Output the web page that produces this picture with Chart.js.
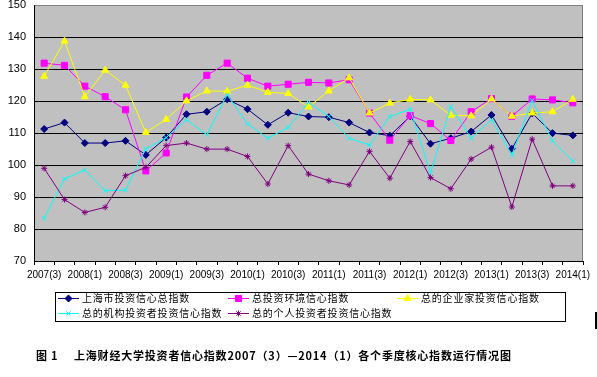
<!DOCTYPE html>
<html>
<head>
<meta charset="utf-8">
<script src="https://cdn.jsdelivr.net/npm/chart.js@4.4.0/dist/chart.umd.min.js"></script>
<style>
  body { margin: 0; background: #fff; }
  #wrap { position: relative; width: 597px; height: 377px; }
  #legendBox { position: absolute; left: 55px; top: 292px; width: 509px; height: 28px; border: 1px solid #000; }
  .item { position: absolute; height: 14px; white-space: nowrap; font: 10px "Noto Sans CJK SC", sans-serif; letter-spacing: 0.8px; line-height: 14px; color: #000; }
  .item canvas { position: absolute; left: 0; top: 1px; }
  .item span { position: absolute; top: 0; }
  #cursor { position: absolute; left: 595px; top: 312px; width: 2px; height: 17px; background: #000; }
  .title { position: absolute; top: 348px; font: bold 11px "Noto Sans CJK SC", sans-serif; letter-spacing: 0.8px; line-height: 14px; white-space: nowrap; color: #000; }
</style>
</head>
<body>
<div id="wrap">
  <canvas id="chart" width="597" height="377"></canvas>
  <div id="legendBox"></div>
  <div id="cursor"></div>
  <div class="title" style="left:36px;">图 1</div>
  <div class="title" style="left:74px;">上海财经大学投资者信心指数2007（3）—2014（1）各个季度核心指数运行情况图</div>
</div>
<script>
// quarters 2007(3) .. 2014(1)
const quarters = ['2007(3)', '2007(4)', '2008(1)', '2008(2)', '2008(3)', '2008(4)', '2009(1)', '2009(2)',
  '2009(3)', '2009(4)', '2010(1)', '2010(2)', '2010(3)', '2010(4)', '2011(1)', '2011(2)', '2011(3)',
  '2011(4)', '2012(1)', '2012(2)', '2012(3)', '2012(4)', '2013(1)', '2013(2)', '2013(3)', '2013(4)', '2014(1)'];

const seriesNames = ['上海市投资信心总指数', '总投资环境信心指数', '总的企业家投资信心指数',
  '总的机构投资者投资信心指数', '总的个人投资者投资信心指数'];

const shanghaiTotal = [111.3, 113.3, 106.9, 106.9, 107.6, 103.2, 108.6, 115.9, 116.7, 120.6, 117.5, 112.6, 116.4, 115.2,
  115.0, 113.3, 110.2, 109.2, 115.3, 106.7, 108.4, 110.5, 115.7, 105.1, 116.2, 110.0, 109.3];
const environment = [131.9, 131.2, 124.7, 121.4, 117.3, 98.2, 103.8, 121.3, 128.1, 131.9, 127.2, 124.7, 125.3, 125.9,
  125.7, 126.7, 116.3, 107.8, 115.5, 113.0, 107.7, 116.7, 120.8, 115.3, 120.7, 120.4, 119.5];
const entrepreneur = [127.8, 138.8, 121.4, 129.7, 125.0, 110.2, 114.3, 120.1, 123.2, 123.1, 125.0, 122.8, 122.4, 118.2,
  123.2, 127.3, 116.3, 119.4, 120.6, 120.4, 115.6, 115.4, 120.7, 115.3, 116.3, 116.7, 120.6];
const institution = [83.4, 95.7, 98.5, 92.0, 92.2, 105.1, 108.6, 114.2, 109.5, 122.0, 112.9, 108.4, 111.8, 119.6,
  115.2, 108.4, 106.3, 115.2, 117.5, 97.5, 118.3, 108.4, 114.2, 103.2, 120.2, 107.6, 101.3];
const individual = [99.0, 89.2, 85.2, 86.8, 96.7, 99.3, 106.1, 106.9, 105.0, 105.0, 102.7, 94.1, 106.1, 97.2,
  95.1, 93.8, 104.3, 95.9, 107.4, 96.1, 92.6, 101.9, 105.6, 86.9, 108.1, 93.5, 93.5];

const yTicks = [70, 80, 90, 100, 110, 120, 130, 140, 150];

const seriesValues = [shanghaiTotal, environment, entrepreneur, institution, individual];
const seriesColors = ['#000080', '#ff00ff', '#ffff00', '#00ffff', '#800080'];
const seriesMarkers = ['rectRot', 'rect', 'triangle', 'crossRot', 'star'];
const markerSizes = [3.5, 4.3, 4, 3, 3];

Chart.defaults.font.family = '"Liberation Sans", Arial, sans-serif';
Chart.defaults.color = '#000';

// grey plot area + grey right border, like the Excel chart
const plotFrame = {
  id: 'plotFrame',
  beforeDraw(chart) {
    const { ctx, chartArea: a } = chart;
    ctx.save();
    ctx.fillStyle = '#c0c0c0';
    ctx.fillRect(a.left, a.top, a.right - a.left, a.bottom - a.top);
    ctx.strokeStyle = '#808080';
    ctx.lineWidth = 1;
    ctx.beginPath();
    ctx.moveTo(Math.round(a.right) - 0.5, a.top);
    ctx.lineTo(Math.round(a.right) - 0.5, a.bottom);
    ctx.stroke();
    ctx.restore();
  }
};

const datasets = seriesNames.map((name, i) => ({
  label: name,
  data: seriesValues[i],
  borderColor: seriesColors[i],
  backgroundColor: seriesColors[i],
  borderWidth: 1,
  pointStyle: seriesMarkers[i],
  pointRadius: markerSizes[i],
  pointBorderWidth: 1,
  pointBorderColor: seriesColors[i],
  pointBackgroundColor: seriesColors[i],
  tension: 0,
  order: 5 - i
}));

const chart = new Chart(document.getElementById('chart'), {
  type: 'line',
  data: { labels: quarters, datasets: datasets },
  options: {
    responsive: false,
    animation: false,
    layout: { padding: { left: 0, top: 5, right: 14, bottom: 96 } },
    plugins: { legend: { display: false }, tooltip: { enabled: false } },
    scales: {
      x: {
        offset: true,
        border: { color: '#000', width: 1 },
        grid: { offset: true, drawOnChartArea: false, drawTicks: true, tickLength: 4, color: '#000' },
        ticks: {
          autoSkip: false, maxRotation: 0, minRotation: 0, padding: 4,
          font: { size: 10 },
          callback: function(value, index) {
            return index % 2 === 0 ? this.getLabelForValue(value) : '';
          }
        },
        afterFit: function(scale) {
          scale.height = 20;
          scale.paddingLeft = 0;
          scale.paddingRight = 0;
        }
      },
      y: {
        min: 70,
        max: 150,
        border: { color: '#000', width: 1 },
        grid: {
          drawTicks: false,
          lineWidth: 1,
          color: ctx => ctx.tick && ctx.tick.value === 150 ? '#808080' : '#000'
        },
        ticks: { padding: 8, font: { size: 11 } },
        afterBuildTicks: function(scale) {
          scale.ticks = yTicks.map(v => ({ value: v }));
        },
        afterFit: function(scale) {
          scale.width = 34;
          scale.paddingTop = 0;
          scale.paddingBottom = 0;
        }
      }
    }
  },
  plugins: [plotFrame]
});

// legend laid out in the fixed grid the original uses
const legendCols = [58, 228, 397];
const legendRows = [291, 306];
const wrap = document.getElementById('wrap');
chart.data.datasets.forEach((ds, i) => {
  const item = document.createElement('div');
  item.className = 'item';
  item.style.left = legendCols[i % 3] + 'px';
  item.style.top = legendRows[Math.floor(i / 3)] + 'px';
  const c = document.createElement('canvas');
  c.width = 21; c.height = 12;
  const g = c.getContext('2d');
  g.strokeStyle = ds.borderColor;
  g.fillStyle = ds.backgroundColor;
  g.lineWidth = 1;
  g.beginPath();
  g.moveTo(0, 6.5); g.lineTo(21, 6.5);
  g.stroke();
  Chart.helpers.drawPoint(g, { pointStyle: ds.pointStyle, radius: ds.pointRadius, rotation: 0, borderWidth: 1 }, 10.5, 6.5);
  item.appendChild(c);
  const t = document.createElement('span');
  t.style.left = '24px';
  t.textContent = ds.label;
  item.appendChild(t);
  wrap.appendChild(item);
});
</script>
</body>
</html>
